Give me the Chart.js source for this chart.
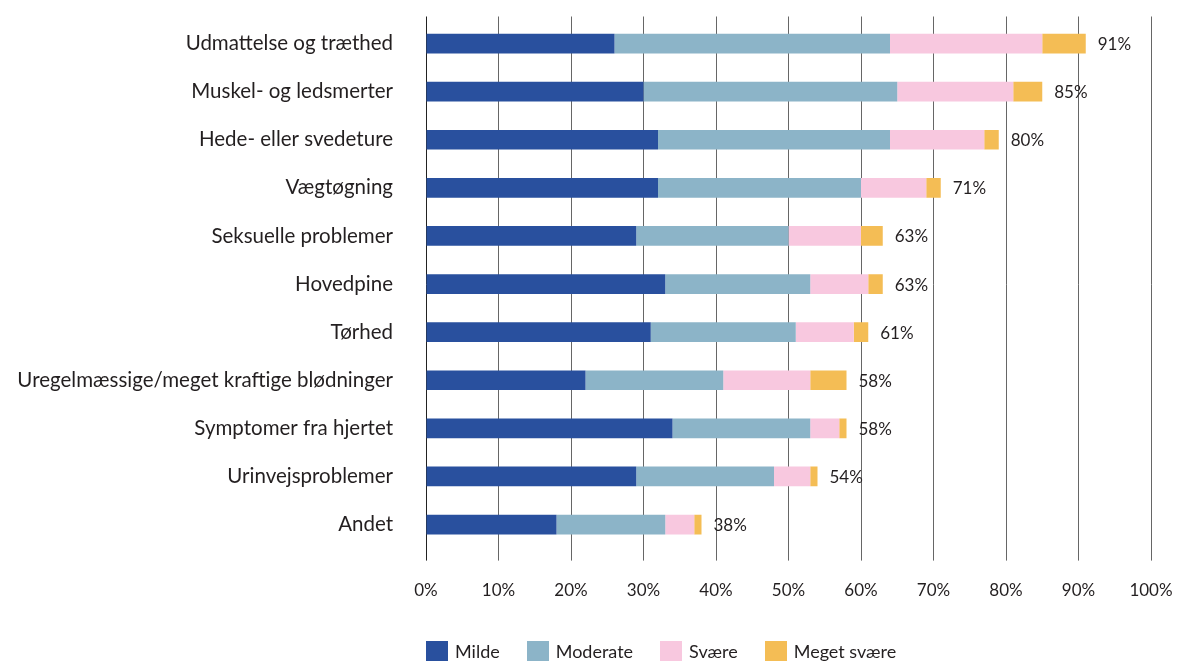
<!DOCTYPE html>
<html>
<head>
<meta charset="utf-8">
<script src="https://cdn.jsdelivr.net/npm/chart.js@4.4.1/dist/chart.umd.min.js"></script>
<style>
  body { margin: 0; background: #fff; }
  #wrap { position: relative; width: 1181px; height: 661px; overflow: hidden; }
  #legend { position: absolute; left: 426px; top: 640px; display: flex; font-family: Lato, sans-serif; font-size: 18px; color: #231f20; }
  #legend .item { display: flex; align-items: center; margin-right: 27px; }
  #legend .box { width: 22px; height: 20px; margin-right: 7px; }
</style>
</head>
<body>
<div id="wrap">
  <canvas id="symptoms"></canvas>
  <div id="legend"></div>
</div>
<script>
// data
const categories = [
  "Udmattelse og træthed",
  "Muskel- og ledsmerter",
  "Hede- eller svedeture",
  "Vægtøgning",
  "Seksuelle problemer",
  "Hovedpine",
  "Tørhed",
  "Uregelmæssige/meget kraftige blødninger",
  "Symptomer fra hjertet",
  "Urinvejsproblemer",
  "Andet",
];
const milde = [26, 30, 32, 32, 29, 33, 31, 22, 34, 29, 18];
const moderate = [38, 35, 32, 28, 21, 20, 20, 19, 19, 19, 15];
const svaere = [21, 16, 13, 9, 10, 8, 8, 12, 4, 5, 4];
const megetSvaere = [6, 4, 2, 2, 3, 2, 2, 5, 1, 1, 1];
const totals = [91, 85, 80, 71, 63, 63, 61, 58, 58, 54, 38];
const xTicks = [0, 10, 20, 30, 40, 50, 60, 70, 80, 90, 100];

const seriesNames = ["Milde", "Moderate", "Svære", "Meget svære"];
const seriesColors = ["#29509e", "#8cb4c8", "#f8c8df", "#f4bd55"];

const textColor = "#231f20";
const fontFamily = "Lato, sans-serif";

// total labels at the end of each bar
const totalLabels = {
  id: "totalLabels",
  afterDatasetsDraw(chart) {
    const ctx = chart.ctx;
    const xScale = chart.scales.x;
    const lastMeta = chart.getDatasetMeta(chart.data.datasets.length - 1);
    ctx.save();
    ctx.font = "17px " + fontFamily;
    ctx.fillStyle = textColor;
    ctx.textAlign = "left";
    ctx.textBaseline = "middle";
    categories.forEach((c, i) => {
      let end = 0;
      chart.data.datasets.forEach((ds) => (end += ds.data[i]));
      const x = xScale.getPixelForValue(end) + 12;
      const y = lastMeta.data[i].y + 1;
      ctx.fillText(totals[i] + "%", x, y);
    });
    ctx.restore();
  },
};

const seriesData = [milde, moderate, svaere, megetSvaere];

// keep label padding from shrinking the plot area
function noScalePadding(scale) {
  scale.paddingLeft = 0;
  scale.paddingRight = 0;
  scale.paddingTop = 0;
  scale.paddingBottom = 0;
}

new Chart(document.getElementById("symptoms"), {
  type: "bar",
  data: {
    labels: categories,
    datasets: seriesData.map((d, i) => ({
      label: seriesNames[i],
      data: d,
      backgroundColor: seriesColors[i],
      borderWidth: 0,
      xAxisID: "x",
      categoryPercentage: 1,
      barPercentage: 0.41,
    })),
  },
  options: {
    indexAxis: "y",
    responsive: true,
    maintainAspectRatio: false,
    animation: false,
    layout: { padding: { top: 16.5, right: 30, bottom: 40, left: 0 } },
    plugins: {
      legend: { display: false },
      tooltip: { enabled: false },
    },
    scales: {
      x: {
        stacked: true,
        min: 0,
        max: 100,
        afterBuildTicks: (scale) => {
          scale.ticks = xTicks.map((v) => ({ value: v }));
        },
        afterFit: noScalePadding,
        border: { display: false },
        grid: {
          color: (c) => (c.tick && c.tick.value === 0 ? "#222" : "#666"),
          lineWidth: 1,
          drawTicks: true,
          tickLength: 12,
        },
        ticks: {
          padding: 20,
          color: textColor,
          font: { family: fontFamily, size: 17 },
          callback: (v) => v + "%",
        },
      },
      x2: {
        position: "top",
        min: 0,
        max: 100,
        afterBuildTicks: (scale) => {
          scale.ticks = xTicks.map((v) => ({ value: v }));
        },
        afterFit: noScalePadding,
        border: { display: false },
        grid: {
          color: (c) => (c.tick && c.tick.value === 0 ? "#222" : "#666"),
          drawOnChartArea: false,
          drawTicks: true,
          tickLength: 3,
        },
        ticks: { display: false },
      },
      y: {
        stacked: true,
        afterFit: (scale) => {
          scale.width = 426;
          noScalePadding(scale);
        },
        border: { display: false },
        grid: { display: false, drawTicks: false },
        ticks: {
          padding: 33,
          color: textColor,
          font: { family: fontFamily, size: 20.5 },
        },
      },
    },
  },
  plugins: [totalLabels],
});

// legend below the chart
const legend = document.getElementById("legend");
seriesNames.forEach((name, i) => {
  const item = document.createElement("div");
  item.className = "item";
  const box = document.createElement("span");
  box.className = "box";
  box.style.background = seriesColors[i];
  const label = document.createElement("span");
  label.textContent = name;
  item.appendChild(box);
  item.appendChild(label);
  legend.appendChild(item);
});
</script>
</body>
</html>
